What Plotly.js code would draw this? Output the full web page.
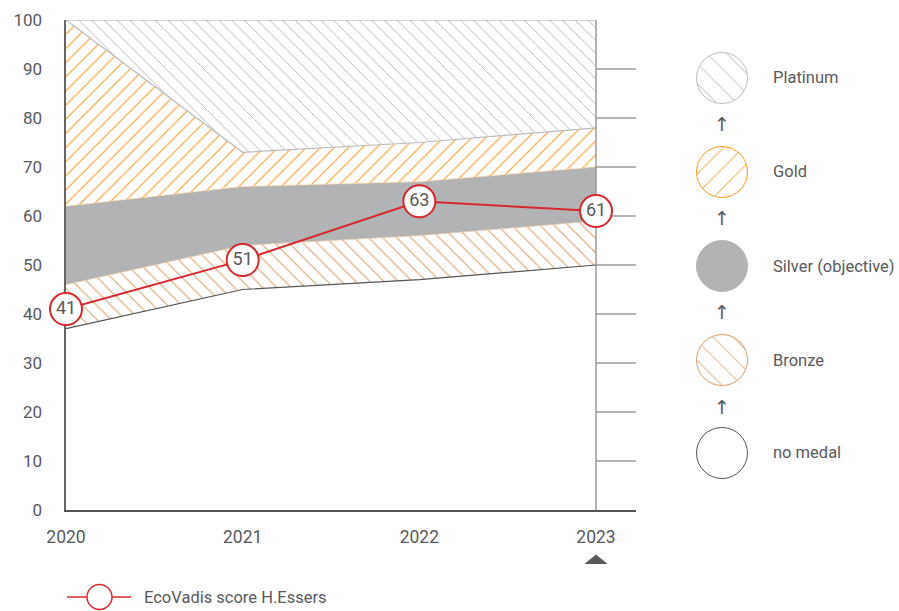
<!DOCTYPE html>
<html>
<head>
<meta charset="utf-8">
<script src="https://cdn.plot.ly/plotly-3.0.1.min.js"></script>
<style>
  html, body { margin: 0; padding: 0; background: #fff; }
  #chart { width: 899px; height: 611px; }
</style>
</head>
<body>
<div id="chart"></div>
<script>
// EcoVadis medal bands per year and the H.Essers score
const years = [2020, 2021, 2022, 2023];
const bronzeMin   = [37, 45, 47, 50];
const silverMin   = [46, 54, 56, 59];
const goldMin     = [62, 66, 67, 70];
const platinumMin = [100, 73, 75, 78];
const scoreMax    = [100, 100, 100, 100];
const score       = [41, 51, 63, 61];
const scoreLabels = score.map(String);

const yTicks = [0, 10, 20, 30, 40, 50, 60, 70, 80, 90, 100];
const xTicks = years;

const medalNames = ['Platinum', 'Gold', 'Silver (objective)', 'Bronze', 'no medal'];
const legendTitle = 'EcoVadis score H.Essers';

const W = 899, H = 611;
const FONT = 'Roboto, "Liberation Sans", sans-serif';
const TXT = '#58595b';
const RED = '#d7282f';
const GOLD = '#f59a23';
const BRONZE = '#d89f68';
const PLAT = '#b4b4b4';
const SILVER = '#b1b3b5';

const px = x => x / W;          // pixel -> paper x
const py = y => (H - y) / H;    // pixel -> paper y

const lastYear = years[years.length - 1];
const traces = [];

// white area below the bronze threshold
traces.push({
  x: years, y: bronzeMin, type: 'scatter', mode: 'lines',
  fill: 'tozeroy', fillcolor: '#ffffff',
  line: {color: '#555555', width: 1.2},
  hoverinfo: 'skip'
});
// bronze band
traces.push({
  x: years, y: silverMin, type: 'scatter', mode: 'lines',
  fill: 'tonexty', fillcolor: '#ffffff',
  fillpattern: {shape: '\\', fgcolor: BRONZE, bgcolor: '#ffffff', size: 10, solidity: 0.1},
  line: {color: '#e8c9a8', width: 0.8},
  hoverinfo: 'skip'
});
// silver band
traces.push({
  x: years, y: goldMin, type: 'scatter', mode: 'lines',
  fill: 'tonexty', fillcolor: SILVER,
  line: {color: '#f3c78f', width: 0.6},
  hoverinfo: 'skip'
});
// gold band
traces.push({
  x: years, y: platinumMin, type: 'scatter', mode: 'lines',
  fill: 'tonexty', fillcolor: '#ffffff',
  fillpattern: {shape: '/', fgcolor: GOLD, bgcolor: '#ffffff', size: 10, solidity: 0.1},
  line: {color: '#bdbdbd', width: 1.2},
  hoverinfo: 'skip'
});
// platinum band
traces.push({
  x: years, y: scoreMax, type: 'scatter', mode: 'lines',
  fill: 'tonexty', fillcolor: '#ffffff',
  fillpattern: {shape: '\\', fgcolor: PLAT, bgcolor: '#ffffff', size: 9, solidity: 0.1},
  line: {color: '#aaaaaa', width: 1.2},
  hoverinfo: 'skip'
});
// right-hand edge of the bands at the latest year
traces.push({
  x: [lastYear, lastYear], y: [yTicks[0], yTicks[yTicks.length - 1]],
  type: 'scatter', mode: 'lines',
  line: {color: '#8a8a8a', width: 1.3},
  hoverinfo: 'skip'
});
// score line
traces.push({
  x: years, y: score, type: 'scatter', mode: 'lines+markers+text',
  text: scoreLabels, textposition: 'middle center',
  textfont: {family: FONT, size: 18, color: TXT},
  line: {color: RED, width: 2},
  marker: {size: 32, color: '#ffffff', line: {color: RED, width: 2}},
  cliponaxis: false,
  hoverinfo: 'skip'
});

// medal key circles on the right
const keyCx = 722, keyR = 25.5;
const keyCy = [78, 172, 266, 360, 453];
const keyStyles = [
  {color: '#ffffff', line: '#bfbfbf', pattern: {shape: '\\', fgcolor: '#b9b9b9', bgcolor: '#ffffff', size: 14, solidity: 0.07}},
  {color: '#ffffff', line: GOLD, pattern: {shape: '/', fgcolor: GOLD, bgcolor: '#ffffff', size: 14, solidity: 0.07}},
  {color: SILVER, line: SILVER, pattern: null},
  {color: '#ffffff', line: BRONZE, pattern: {shape: '\\', fgcolor: BRONZE, bgcolor: '#ffffff', size: 14, solidity: 0.07}},
  {color: '#ffffff', line: '#555555', pattern: null}
];
keyCy.forEach((cy, i) => {
  const s = keyStyles[i];
  const marker = {colors: [s.color], line: {color: s.line, width: 1}};
  if (s.pattern) marker.pattern = s.pattern;
  traces.push({
    type: 'pie', values: [1], labels: [medalNames[i]],
    domain: {x: [px(keyCx - keyR), px(keyCx + keyR)], y: [py(cy + keyR), py(cy - keyR)]},
    marker: marker, textinfo: 'none', hoverinfo: 'skip', sort: false, showlegend: false
  });
});

const annotations = [];
medalNames.forEach((name, i) => {
  annotations.push({
    xref: 'paper', yref: 'paper', x: px(771), y: py(keyCy[i]),
    xanchor: 'left', yanchor: 'middle', showarrow: false,
    text: name, font: {family: FONT, size: 16.5, color: TXT}
  });
});
[124, 218, 312, 407].forEach(cy => {
  annotations.push({
    xref: 'paper', yref: 'paper', x: px(keyCx), y: py(cy),
    xanchor: 'center', yanchor: 'middle', showarrow: false,
    text: '↑', font: {family: 'DejaVu Sans, sans-serif', size: 19, color: TXT}
  });
});
annotations.push({
  xref: 'paper', yref: 'paper', x: px(142), y: py(597),
  xanchor: 'left', yanchor: 'middle', showarrow: false,
  text: legendTitle, font: {family: FONT, size: 16.5, color: TXT}
});

const shapes = [
  // marker under the current year
  {type: 'path', xref: 'x', yref: 'paper', xsizemode: 'pixel', ysizemode: 'pixel',
   xanchor: lastYear, yanchor: py(564), path: 'M-11.5,0 L11.5,0 L0,9.5 Z',
   fillcolor: '#58595b', line: {width: 0}},
  // score key: line and circle
  {type: 'line', xref: 'paper', yref: 'paper', x0: px(67), x1: px(131), y0: py(597), y1: py(597),
   line: {color: RED, width: 1.5}},
  {type: 'circle', xref: 'paper', yref: 'paper', x0: px(87), x1: px(112), y0: py(609.5), y1: py(584.5),
   fillcolor: '#ffffff', line: {color: RED, width: 1.5}}
];

const layout = {
  width: W, height: H,
  margin: {l: 0, r: 0, t: 0, b: 0},
  paper_bgcolor: '#ffffff', plot_bgcolor: '#ffffff',
  showlegend: false,
  font: {family: FONT, color: TXT},
  xaxis: {
    domain: [px(66), px(636)],
    range: [2020, 2023 + 40 / 176.67],
    tickvals: xTicks, ticktext: xTicks.map(String),
    ticks: 'outside', ticklen: 10, tickcolor: 'rgba(0,0,0,0)',
    tickfont: {family: FONT, size: 17.5, color: TXT},
    showgrid: false, zeroline: false,
    showline: true, linecolor: '#555555', linewidth: 2,
    layer: 'below traces'
  },
  yaxis: {
    domain: [py(510), py(20)],
    range: [0, 100],
    tickvals: yTicks,
    ticks: 'outside', ticklen: 18, tickcolor: 'rgba(0,0,0,0)',
    tickfont: {family: FONT, size: 17, color: TXT},
    showgrid: true, gridcolor: '#b5b5b5', gridwidth: 1.2,
    zeroline: false,
    showline: true, linecolor: '#666666', linewidth: 2.5,
    layer: 'below traces'
  },
  shapes: shapes,
  annotations: annotations
};

Plotly.newPlot('chart', traces, layout, {displayModeBar: false, staticPlot: true});
</script>
</body>
</html>
